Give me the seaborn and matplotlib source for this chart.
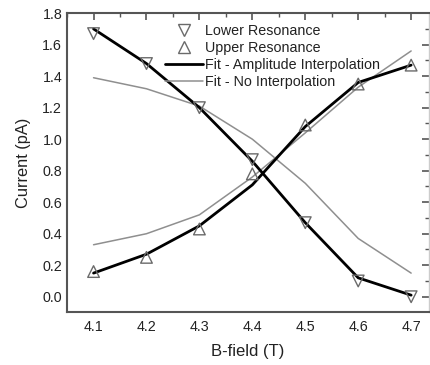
import matplotlib
matplotlib.use("Agg")
import matplotlib.pyplot as plt
import seaborn as sns
import pandas as pd
from matplotlib.ticker import MultipleLocator
from matplotlib.lines import Line2D

sns.set_style("white")
plt.rcParams['font.family'] = ['Liberation Sans', 'DejaVu Sans']

b_field = [4.1, 4.2, 4.3, 4.4, 4.5, 4.6, 4.7]
lower_res = [1.67, 1.48, 1.20, 0.87, 0.47, 0.10, 0.00]
upper_res = [0.16, 0.25, 0.43, 0.78, 1.09, 1.35, 1.47]
fit_amp_lower = [1.70, 1.48, 1.20, 0.86, 0.47, 0.12, 0.01]
fit_amp_upper = [0.15, 0.27, 0.45, 0.71, 1.08, 1.36, 1.47]
fit_noint_lower = [1.39, 1.32, 1.21, 1.00, 0.72, 0.37, 0.15]
fit_noint_upper = [0.33, 0.40, 0.52, 0.76, 1.04, 1.33, 1.56]

df = pd.DataFrame({
    "B": b_field,
    "lower": lower_res, "upper": upper_res,
    "fal": fit_amp_lower, "fau": fit_amp_upper,
    "fnl": fit_noint_lower, "fnu": fit_noint_upper,
})

fig = plt.figure(figsize=(4.30, 3.65), dpi=100)
ax = fig.add_axes([0.156, 0.146, 0.842, 0.818])

gray_line = "#8f8f8f"
for col in ["fnl", "fnu"]:
    sns.lineplot(data=df, x="B", y=col, ax=ax, color=gray_line, lw=1.1, zorder=2)
for col in ["fal", "fau"]:
    sns.lineplot(data=df, x="B", y=col, ax=ax, color="black", lw=2.0, zorder=3)

mk = dict(s=70, facecolor="none", edgecolor="#6a6a6a", linewidth=1.0, zorder=4)
sns.scatterplot(data=df, x="B", y="lower", marker="v", ax=ax, **mk)
sns.scatterplot(data=df, x="B", y="upper", marker="^", ax=ax, **mk)

ax.set_xlim(4.05, 4.734)
ax.set_ylim(-0.095, 1.8)
ax.xaxis.set_minor_locator(MultipleLocator(0.05))
ax.yaxis.set_minor_locator(MultipleLocator(0.1))
ax.set_xticks([4.1, 4.2, 4.3, 4.4, 4.5, 4.6, 4.7])
ax.set_xticklabels(["4.1", "4.2", "4.3", "4.4", "4.5", "4.6", "4.7"])
ax.set_yticks([0.0, 0.2, 0.4, 0.6, 0.8, 1.0, 1.2, 1.4, 1.6, 1.8])
ax.set_yticklabels(["0.0", "0.2", "0.4", "0.6", "0.8", "1.0", "1.2", "1.4", "1.6", "1.8"])

spine_c = "#555555"
for s in ["left", "bottom", "top"]:
    ax.spines[s].set_color(spine_c)
    ax.spines[s].set_linewidth(1.5)
ax.spines["right"].set_color("#cccccc")
ax.spines["right"].set_linewidth(1.0)

ax.tick_params(axis="both", which="both", direction="in", top=True, right=True,
               color=spine_c, labelsize=10.3, labelcolor="#222222")
ax.tick_params(which="major", length=5, width=1.2)
ax.tick_params(which="minor", length=3, width=1.0)
ax.tick_params(axis="x", pad=6)

ax.set_xlabel("B-field (T)", fontsize=12, color="#222222", labelpad=7)
ax.set_ylabel("Current (pA)", fontsize=11.8, color="#222222", labelpad=8)

handles = [
    Line2D([], [], ls="none", marker="v", markersize=9, markerfacecolor="none",
           markeredgecolor="#6a6a6a"),
    Line2D([], [], ls="none", marker="^", markersize=9, markerfacecolor="none",
           markeredgecolor="#6a6a6a"),
    Line2D([], [], color="black", lw=2.0),
    Line2D([], [], color=gray_line, lw=1.1),
]
labels = ["Lower Resonance", "Upper Resonance",
          "Fit - Amplitude Interpolation", "Fit - No Interpolation"]
leg = ax.legend(handles, labels, loc="upper left", bbox_to_anchor=(0.24, 1.0),
                frameon=False, fontsize=10.3, handlelength=2.7, handletextpad=0.1,
                labelspacing=0.22, borderaxespad=0.35)
for t in leg.get_texts():
    t.set_color("#222222")

fig.savefig("out.png", dpi=100)
